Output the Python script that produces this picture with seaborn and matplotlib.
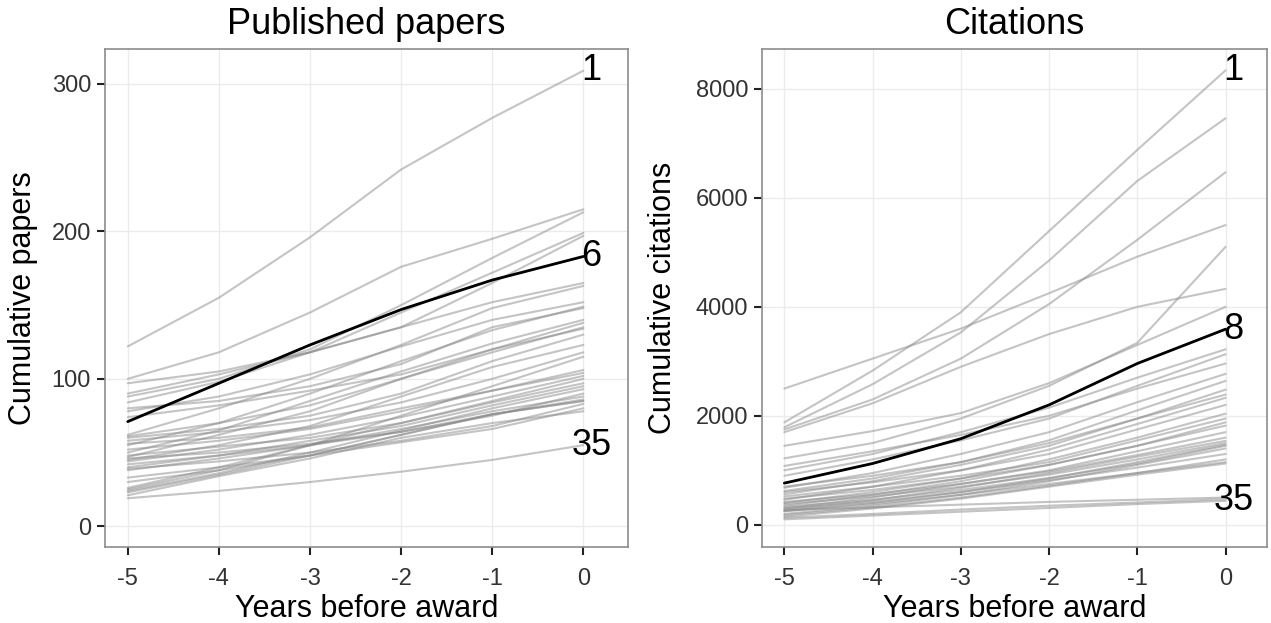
import matplotlib
matplotlib.use("Agg")
import matplotlib.pyplot as plt
import seaborn as sns
import pandas as pd

years = [-5, -4, -3, -2, -1, 0]

# cumulative papers per researcher, ranked by final value (rank 1..35)
papers = [
    [122, 155, 196, 242, 277, 309],
    [100, 118, 145, 176, 195, 215],
    [88, 100, 120, 150, 182, 213],
    [84, 98, 118, 145, 172, 199],
    [97, 105, 118, 135, 165, 197],
    [71, 97, 123, 147, 167, 183],
    [90, 103, 118, 135, 152, 165],
    [62, 80, 100, 123, 148, 163],
    [78, 88, 103, 122, 140, 152],
    [55, 70, 90, 112, 133, 149],
    [80, 85, 95, 110, 135, 148],
    [50, 65, 85, 105, 124, 140],
    [74, 82, 92, 103, 120, 138],
    [61, 70, 82, 100, 118, 135],
    [47, 62, 78, 100, 120, 134],
    [60, 66, 75, 90, 112, 130],
    [45, 55, 68, 88, 108, 123],
    [58, 64, 72, 84, 100, 118],
    [25, 38, 55, 75, 95, 115],
    [52, 58, 66, 78, 92, 106],
    [56, 60, 67, 80, 92, 104],
    [44, 52, 62, 74, 88, 102],
    [26, 40, 55, 70, 85, 100],
    [48, 54, 60, 70, 84, 97],
    [40, 48, 58, 68, 82, 95],
    [24, 36, 50, 65, 80, 93],
    [46, 50, 56, 64, 75, 90],
    [38, 46, 55, 66, 78, 88],
    [30, 38, 48, 62, 76, 86],
    [42, 48, 55, 64, 76, 85],
    [23, 35, 48, 62, 76, 85],
    [39, 44, 50, 58, 68, 83],
    [33, 40, 48, 57, 66, 80],
    [21, 34, 46, 60, 70, 78],
    [19, 24, 30, 37, 45, 55],
]

# cumulative citations per researcher, ranked by final value (rank 1..35)
citations = [
    [1880, 2830, 3900, 5390, 6880, 8340],
    [1790, 2580, 3530, 4850, 6310, 7460],
    [1750, 2300, 3050, 4050, 5230, 6470],
    [2500, 3050, 3600, 4250, 4920, 5500],
    [1220, 1500, 1950, 2550, 3340, 5100],
    [1700, 2230, 2900, 3500, 4000, 4330],
    [1450, 1720, 2050, 2600, 3300, 4000],
    [765, 1125, 1580, 2200, 2960, 3590],
    [1000, 1300, 1700, 2150, 2700, 3220],
    [900, 1200, 1550, 1950, 2550, 3130],
    [1080, 1350, 1650, 2000, 2500, 2960],
    [680, 950, 1300, 1700, 2250, 2770],
    [620, 850, 1150, 1550, 2100, 2640],
    [560, 800, 1100, 1450, 1950, 2480],
    [700, 900, 1150, 1500, 1950, 2390],
    [460, 700, 1000, 1380, 1850, 2330],
    [600, 780, 1000, 1300, 1750, 2200],
    [400, 600, 850, 1200, 1600, 2040],
    [520, 700, 900, 1150, 1550, 1950],
    [350, 550, 800, 1100, 1450, 1880],
    [480, 640, 850, 1100, 1450, 1820],
    [300, 500, 750, 1000, 1350, 1700],
    [420, 560, 750, 980, 1280, 1600],
    [270, 450, 680, 950, 1250, 1540],
    [380, 520, 700, 920, 1200, 1500],
    [250, 400, 600, 850, 1150, 1470],
    [330, 460, 640, 860, 1120, 1450],
    [200, 350, 550, 800, 1100, 1400],
    [300, 420, 600, 820, 1050, 1300],
    [180, 320, 500, 720, 950, 1200],
    [250, 380, 550, 750, 950, 1150],
    [150, 300, 480, 700, 920, 1125],
    [270, 320, 370, 420, 460, 500],
    [130, 200, 280, 350, 410, 470],
    [100, 170, 240, 310, 380, 440],
]

papers_labels = [1, 6, 35]
papers_highlight = 6
citations_labels = [1, 8, 35]
citations_highlight = 8


def to_long(series):
    rows = []
    for i, vals in enumerate(series):
        for y, v in zip(years, vals):
            rows.append({"rank": i + 1, "year": y, "value": v})
    return pd.DataFrame(rows)


sns.set_theme(style="whitegrid")
plt.rcParams["font.family"] = ["Liberation Sans", "DejaVu Sans"]
plt.rcParams["axes.unicode_minus"] = False

fig = plt.figure(figsize=(12.71, 6.23), dpi=100)
W, H = 1271, 623
top_px, bot_px = 48.6, 547.2
ax1 = fig.add_axes([105 / W, (H - bot_px) / H, (628 - 105) / W, (bot_px - top_px) / H])
ax2 = fig.add_axes([762.3 / W, (H - bot_px) / H, (1267 - 762.3) / W, (bot_px - top_px) / H])
ax_h = bot_px - top_px

panels = [
    (ax1, papers, papers_labels, papers_highlight, "Published papers",
     "Cumulative papers", [0, 100, 200, 300], (-14.2, 324), (-5.25, 0.49), 23),
    (ax2, citations, citations_labels, citations_highlight, "Citations",
     "Cumulative citations", [0, 2000, 4000, 6000, 8000], (-411, 8739), (-5.25, 0.47), 663),
]

for ax, series, labels, hl, title, ylabel, yticks, ylim, xlim, ylab_x in panels:
    df = to_long(series)
    sns.lineplot(data=df, x="year", y="value", units="rank", estimator=None,
                 color="#8a8a8a", alpha=0.5, linewidth=1.5, ax=ax)
    sns.lineplot(data=df[df["rank"] == hl], x="year", y="value",
                 color="black", linewidth=2.0, ax=ax)
    for r in labels:
        ax.text(0.09, series[r - 1][-1], str(r), ha="center", va="center",
                fontsize=26, color="black")
    ax.set_xlim(*xlim)
    ax.set_ylim(*ylim)
    ax.set_xticks(years)
    ax.set_xticklabels([str(y) for y in years])
    ax.set_yticks(yticks)
    ax.set_yticklabels([str(t) for t in yticks])
    ax.set_title(title, fontsize=26, pad=0, y=1 + 14.6 / ax_h, color="black")
    ax.set_xlabel("Years before award", fontsize=22, color="black")
    ax.set_ylabel(ylabel, fontsize=22, color="black")
    pos = ax.get_position()
    ax_left_px = pos.x0 * W
    ax_w_px = pos.width * W
    ax.xaxis.set_label_coords(0.5, -(617 - bot_px) / ax_h)
    ax.xaxis.label.set_verticalalignment("baseline")
    ax.yaxis.set_label_coords((ylab_x - ax_left_px) / ax_w_px, 0.5)
    ax.yaxis.label.set_verticalalignment("center")
    ax.grid(True, color="#ebebeb", linewidth=1.0)
    ax.set_facecolor("white")
    for s in ax.spines.values():
        s.set_color("#8c8c8c")
        s.set_linewidth(1.2)
    ax.tick_params(axis="both", which="major", length=6, width=1.5,
                   color="#222222", labelsize=17, labelcolor="#333333",
                   bottom=True, left=True)
    ax.tick_params(axis="x", pad=9)
    ax.tick_params(axis="y", pad=4)

fig.savefig("out.png", dpi=100)
